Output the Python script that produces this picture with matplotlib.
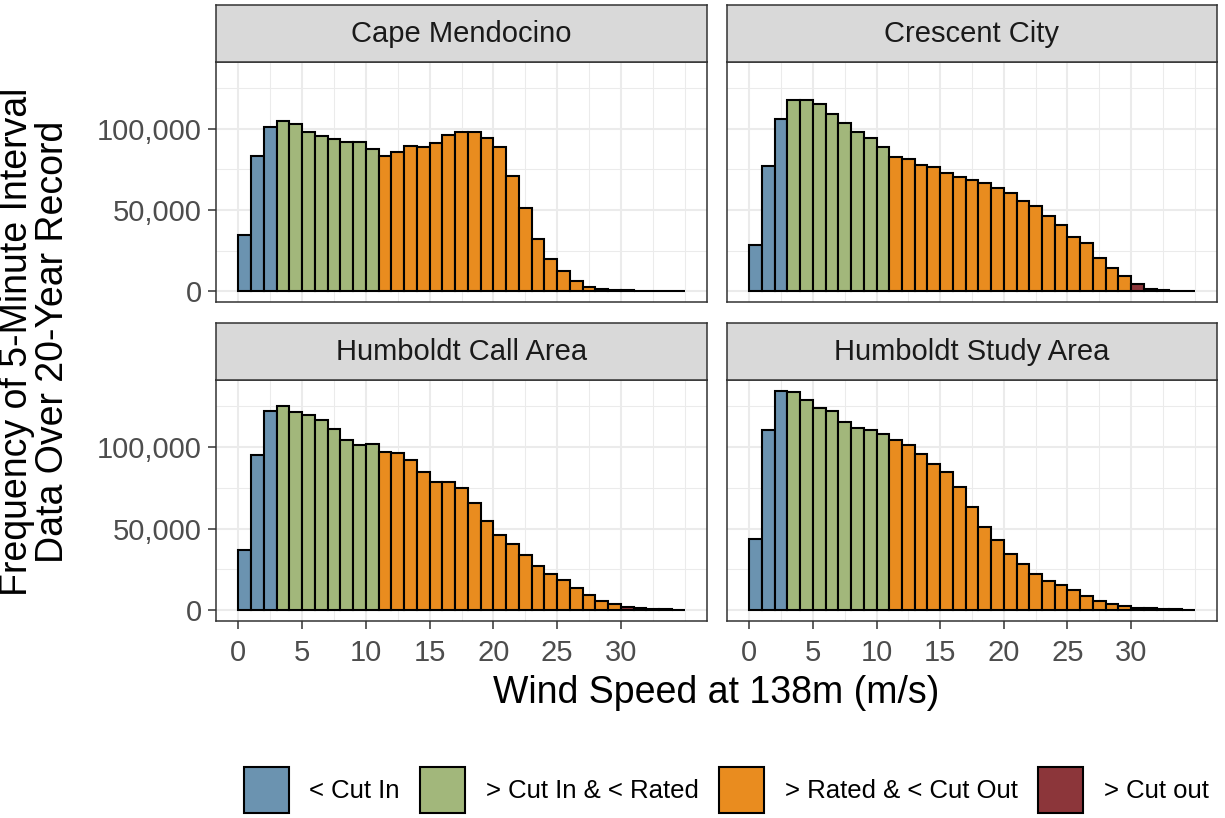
import numpy as np
import matplotlib
matplotlib.use("Agg")
import matplotlib.pyplot as plt
from matplotlib.patches import Patch
from matplotlib.ticker import FixedLocator, MultipleLocator, FuncFormatter

plt.rcParams["font.family"] = ["Liberation Sans", "DejaVu Sans"]

# 1 m/s wind-speed bins, left edges 0..34
bin_left = np.arange(0, 35)

stations = ["Cape Mendocino", "Crescent City",
            "Humboldt Call Area", "Humboldt Study Area"]

cape_mendocino = [34500, 83200, 100800, 104900, 102700, 98100, 95700, 93800,
                  91800, 92000, 87700, 83200, 85400, 89300, 89000, 91200,
                  96300, 97900, 97900, 94200, 88500, 70800, 51100, 31800,
                  19900, 12300, 6400, 2500, 1200, 700, 400, 250, 150, 80, 40]
crescent_city = [28500, 76800, 106300, 117600, 117600, 115400, 108800, 103700,
                 97900, 94600, 88700, 82700, 81500, 77600, 76600, 72900,
                 70200, 68200, 66500, 63800, 60600, 55400, 52600, 46400,
                 40600, 33300, 29600, 20100, 14400, 9600, 4300, 1500, 600,
                 300, 150]
humboldt_call = [37100, 95100, 122100, 125000, 121500, 119700, 116400, 111100,
                 104500, 101000, 101800, 96900, 96100, 92000, 84800, 78700,
                 78700, 75000, 65800, 54500, 46300, 40600, 33600, 26800,
                 22300, 18200, 13500, 9400, 5300, 3900, 1800, 1200, 800, 500,
                 300]
humboldt_study = [43400, 110200, 134400, 133800, 128900, 124000, 121900,
                  115400, 111700, 110200, 107800, 104100, 101200, 95500, 89300,
                  84600, 75600, 63300, 50800, 42800, 34400, 28300, 22300,
                  18000, 15600, 12300, 8400, 5500, 3500, 2300, 1400, 1000,
                  600, 400, 200]
counts = [cape_mendocino, crescent_city, humboldt_call, humboldt_study]

# turbine operating regions (m/s): cut-in, rated, cut-out
thresholds = [3, 11, 30]
cat_labels = ["< Cut In", "> Cut In & < Rated", "> Rated & < Cut Out", "> Cut out"]
cat_colors = ["#6b93b0", "#a2b77b", "#e98c1f", "#8c363a"]

W, H = 1225, 818
fig = plt.figure(figsize=(W / 100, H / 100), dpi=100)


def px_rect(l, t, r, b):
    return [l / W, 1 - b / H, (r - l) / W, (b - t) / H]


col_lr = [(216, 707), (727, 1217)]
row_tb = [(62, 302), (380, 621)]
strip_h = 57

bin_cat = np.digitize(bin_left, thresholds)
bar_colors = [cat_colors[c] for c in bin_cat]
ymax = max(max(c) for c in counts)

for i, (name, vals) in enumerate(zip(stations, counts)):
    r, c = divmod(i, 2)
    l, rr = col_lr[c]
    t, b = row_tb[r]
    ax = fig.add_axes(px_rect(l, t, rr, b))
    ax.bar(bin_left, vals, width=1, align="edge", color=bar_colors,
           edgecolor="black", linewidth=1.5, zorder=3)
    ax.set_xlim(-1.75, 36.75)
    ax.set_ylim(-0.05 * ymax, 1.05 * ymax)
    ax.xaxis.set_major_locator(FixedLocator(range(0, 31, 5)))
    ax.xaxis.set_minor_locator(MultipleLocator(2.5))
    ax.yaxis.set_major_locator(FixedLocator([0, 50000, 100000]))
    ax.yaxis.set_minor_locator(MultipleLocator(25000))
    ax.yaxis.set_major_formatter(FuncFormatter(lambda v, p: f"{v:,.0f}"))
    ax.grid(which="major", color="#ebebeb", lw=1.5, zorder=0)
    ax.grid(which="minor", color="#ebebeb", lw=0.75, zorder=0)
    ax.set_axisbelow(True)
    for s in ax.spines.values():
        s.set_color("#333333")
        s.set_linewidth(1.1)
    ax.tick_params(which="minor", length=0)
    ax.tick_params(which="major", length=6, width=1.1, color="#333333",
                   labelcolor="#4d4d4d", labelsize=21)
    ax.tick_params(axis="x", bottom=(r == 1), labelbottom=(r == 1), pad=7)
    ax.tick_params(axis="y", left=(c == 0), labelleft=(c == 0), pad=4)

    # facet strip
    sx = fig.add_axes(px_rect(l, t - strip_h, rr, t))
    sx.set_facecolor("#d9d9d9")
    sx.set_xticks([])
    sx.set_yticks([])
    for s in sx.spines.values():
        s.set_color("#333333")
        s.set_linewidth(1.1)
    sx.text(0.5, 0.5, name, ha="center", va="center", fontsize=21,
            color="#1a1a1a", transform=sx.transAxes)

fig.text(716.5 / W, 1 - 693 / H, "Wind Speed at 138m (m/s)",
         ha="center", va="center", fontsize=27)
fig.text(35 / W, 1 - 341.5 / H,
         "Frequency of 5-Minute Interval\nData Over 20-Year Record",
         ha="center", va="center", rotation=90, fontsize=27,
         linespacing=1.0, multialignment="center")

handles = [Patch(facecolor=fc, edgecolor="black", linewidth=1.5)
           for fc in cat_colors]
fig.legend(handles, cat_labels, loc="center",
           bbox_to_anchor=(726 / W, 1 - 790 / H), ncol=4, frameon=False,
           fontsize=18.5, handlelength=1.75, handleheight=2.4,
           handletextpad=0.8, columnspacing=0.8, borderpad=0, borderaxespad=0)

fig.savefig("out.png", dpi=100)
